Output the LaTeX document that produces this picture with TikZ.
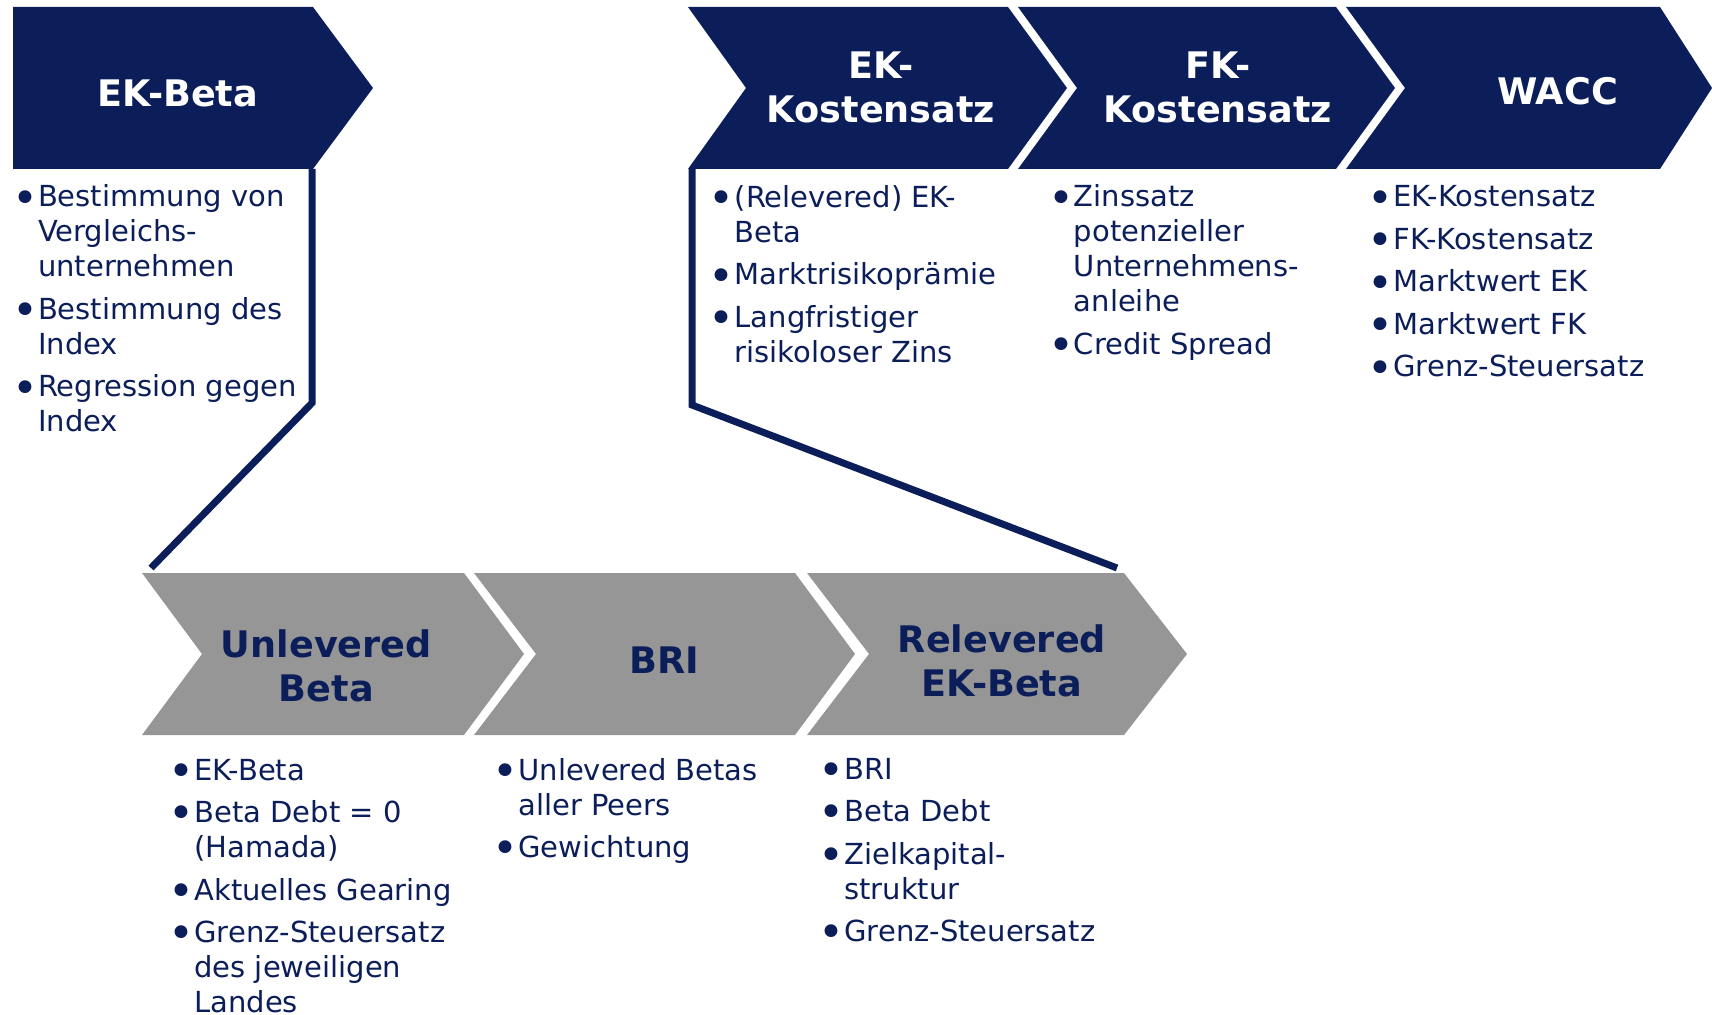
\documentclass[tikz,border=0pt]{standalone}
\usepackage{fontspec}
\setmainfont{DejaVu Sans}
\definecolor{navy}{RGB}{12,30,90}
\definecolor{chgray}{RGB}{150,150,150}
\newcommand{\bodyfont}{\fontsize{14.5pt}{17.5pt}\selectfont}
\newcommand{\headfont}{\fontsize{18.3pt}{22pt}\selectfont\bfseries}
\newcommand{\bul}{\makebox[10.75pt][l]{\hspace{-2.2pt}\raisebox{-3.2pt}{\fontsize{22pt}{22pt}\selectfont •}}}
\newcommand{\isep}{3.75pt}
\tikzset{
  body/.style={anchor=base west, inner sep=0pt, font=\bodyfont, text=navy},
  headw/.style={anchor=base, inner sep=0pt, font=\headfont, text=white},
  headn/.style={anchor=base, inner sep=0pt, font=\headfont, text=navy},
  conn/.style={draw=navy, line width=3.5pt},
  darkchev/.style={fill=navy},
  graychev/.style={fill=chgray}
}
\begin{document}
\begin{tikzpicture}[x=0.5pt,y=-0.5pt]
\useasboundingbox (0,0) rectangle (1712,1015);
% top chevrons
\fill[darkchev] (13,7) -- (313,7) -- (373,88) -- (313,169) -- (13,169) -- cycle;
\fill[darkchev] (688,7) -- (1008,7) -- (1067,88) -- (1008,169) -- (688,169) -- (746,88) -- cycle;
\fill[darkchev] (1018,7) -- (1336,7) -- (1395,88) -- (1336,169) -- (1018,169) -- (1077,88) -- cycle;
\fill[darkchev] (1346,7) -- (1660,7) -- (1712,88) -- (1660,169) -- (1346,169) -- (1405,88) -- cycle;
% bottom chevrons
\fill[graychev] (142,573) -- (464,573) -- (524,654) -- (464,735) -- (142,735) -- (202,654) -- cycle;
\fill[graychev] (474,573) -- (795,573) -- (855,654) -- (795,735) -- (474,735) -- (536,654) -- cycle;
\fill[graychev] (807,573) -- (1124,573) -- (1187,654) -- (1124,735) -- (807,735) -- (869,654) -- cycle;
% connector coordinates
\coordinate (ekbA) at (312,169);
\coordinate (ekbB) at (312,403);
\coordinate (ekbC) at (151,568);
\coordinate (ekkA) at (692,169);
\coordinate (ekkB) at (692,405);
\coordinate (ekkC) at (1117,568);
\draw[conn] (ekbA) -- (ekbB) -- (ekbC);
\draw[conn] (ekkA) -- (ekkB) -- (ekkC);
% headings
\node[headw] (h1) at (178,107) {EK-Beta};
\node[headw] (h2) at (881,79) {\begin{tabular}[t]{@{}c@{}}EK-\\Kostensatz\end{tabular}};
\node[headw] (h3) at (1218,79) {\begin{tabular}[t]{@{}c@{}}FK-\\Kostensatz\end{tabular}};
\node[headw] (h4) at (1557.5,105) {WACC};
\node[headn] (h5) at (326.4,657) {\begin{tabular}[t]{@{}c@{}}Unlevered\\Beta\end{tabular}};
\node[headn] (h6) at (664,673) {BRI};
\node[headn] (h7) at (1002,652) {\begin{tabular}[t]{@{}c@{}}Relevered\\EK-Beta\end{tabular}};
% bullet texts
\node[body] (b1) at (16.2,207) {\begin{tabular}[t]{@{}l@{}l@{}}
\bul&Bestimmung von\\&Vergleichs-\\&unternehmen\\[\isep]
\bul&Bestimmung des\\&Index\\[\isep]
\bul&Regression gegen\\&Index\end{tabular}};
\node[body] (b2) at (712.8,207.5) {\begin{tabular}[t]{@{}l@{}l@{}}
\bul&(Relevered) EK-\\&Beta\\[\isep]
\bul&Marktrisikoprämie\\[\isep]
\bul&Langfristiger\\&risikoloser Zins\end{tabular}};
\node[body] (b3) at (1052,207) {\begin{tabular}[t]{@{}l@{}l@{}}
\bul&Zinssatz\\&potenzieller\\&Unternehmens-\\&anleihe\\[\isep]
\bul&Credit Spread\end{tabular}};
\node[body] (b4) at (1371.5,207) {\begin{tabular}[t]{@{}l@{}l@{}}
\bul&EK-Kostensatz\\[\isep]
\bul&FK-Kostensatz\\[\isep]
\bul&Marktwert EK\\[\isep]
\bul&Marktwert FK\\[\isep]
\bul&Grenz-Steuersatz\end{tabular}};
\node[body] (b5) at (172.5,780) {\begin{tabular}[t]{@{}l@{}l@{}}
\bul&EK-Beta\\[\isep]
\bul&Beta Debt = 0\\&(Hamada)\\[\isep]
\bul&Aktuelles Gearing\\[\isep]
\bul&Grenz-Steuersatz\\&des jeweiligen\\&Landes\end{tabular}};
\node[body] (b6) at (496.5,780) {\begin{tabular}[t]{@{}l@{}l@{}}
\bul&Unlevered Betas\\&aller Peers\\[\isep]
\bul&Gewichtung\end{tabular}};
\node[body] (b7) at (822.5,779) {\begin{tabular}[t]{@{}l@{}l@{}}
\bul&BRI\\[\isep]
\bul&Beta Debt\\[\isep]
\bul&Zielkapital-\\&struktur\\[\isep]
\bul&Grenz-Steuersatz\end{tabular}};
\end{tikzpicture}
\end{document}
